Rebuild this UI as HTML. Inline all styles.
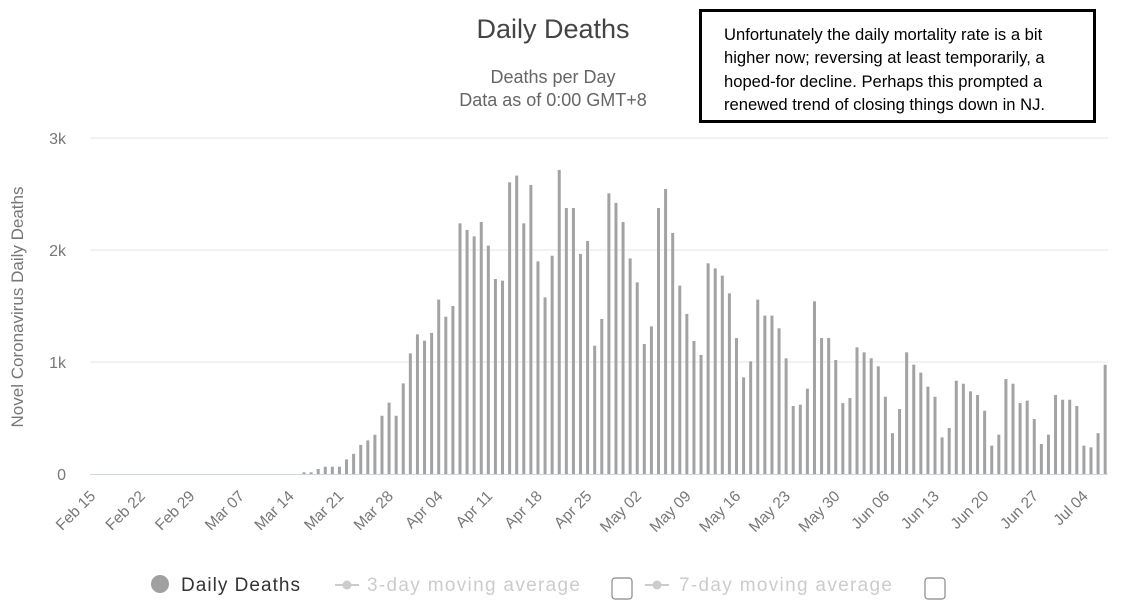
<!DOCTYPE html>
<html><head><meta charset="utf-8"><style>
body{margin:0;background:#fff;width:1121px;height:608px;overflow:hidden;font-family:"Liberation Sans",sans-serif}
svg{position:absolute;left:0;top:0}
#note{position:absolute;left:699px;top:9px;width:391px;height:108px;border:3px solid #000;box-sizing:content-box;font-size:16.6px;line-height:23.3px;color:#000;padding:0;white-space:nowrap}
#note div{padding:11px 0 0 22px}
</style></head><body>
<svg id="chart" width="1121" height="608"></svg>
<div id="note"><div>Unfortunately the daily mortality rate is a bit<br>higher now; reversing at least temporarily, a<br>hoped-for decline. Perhaps this prompted a<br>renewed trend of closing things down in NJ.</div></div>
<script>
const leadingZeros = 30;
const deaths = [15,15,45,65,65,65,130,180,260,300,350,520,637,520,809,1077,1247,1190,1259,1557,1405,1500,2238,2179,2122,2250,2039,1741,1726,2604,2664,2238,2581,1899,1577,1949,2715,
2375,2375,1965,2081,1146,1384,2506,2420,2250,1925,1711,1161,1318,2375,2545,2152,1682,1429,1188,1063,1881,1836,1771,1613,1214,863,1006,1557,1414,1414,1301,1033,607,619,762,1542,1214,1214,
1018,633,678,1131,1086,1033,961,690,365,580,1086,976,905,780,690,327,411,833,806,738,705,565,253,351,848,806,633,655,491,268,351,705,663,663,607,253,238,365,975];
const yTicks = [0,1000,2000,3000];
const yTickLabels = ["0","1k","2k","3k"];
const xTickLabels = ["Feb 15","Feb 22","Feb 29","Mar 07","Mar 14","Mar 21","Mar 28","Apr 04","Apr 11","Apr 18","Apr 25","May 02","May 09","May 16","May 23","May 30","Jun 06","Jun 13","Jun 20","Jun 27","Jul 04"];

const NS="http://www.w3.org/2000/svg";
const svg=document.getElementById('chart');
function mk(t,a,txt){const e=document.createElementNS(NS,t);for(const k in a)e.setAttribute(k,a[k]);if(txt!=null)e.textContent=txt;svg.appendChild(e);return e;}
const values=new Array(leadingZeros).fill(0).concat(deaths);
const X0=91.3,STEP=7.09,Y0=474,PXK=112/1000;
const xs=i=>X0+i*STEP, ys=v=>Y0-v*PXK;

let e;
e=mk('text',{x:553,y:38,'text-anchor':'middle','font-size':27,fill:'#444'},'Daily Deaths');

e=mk('text',{x:553,y:83,'text-anchor':'middle','font-size':18,fill:'#666'},'Deaths per Day');

e=mk('text',{x:553,y:106,'text-anchor':'middle','font-size':18,fill:'#666'},'Data as of 0:00 GMT+8');


yTicks.forEach((t,i)=>{
  if(t>0){e=mk('line',{x1:90,x2:1108,y1:ys(t),y2:ys(t),stroke:'#e6e6e6','stroke-width':1});
  }
  e=mk('text',{x:66,y:ys(t)+6,'text-anchor':'end','font-size':16,fill:'#777'},yTickLabels[i]);
  
});
e=mk('text',{x:0,y:0,transform:'translate(23,307) rotate(-90)','text-anchor':'middle','font-size':17,fill:'#777'},'Novel Coronavirus Daily Deaths');


values.forEach((v,i)=>{
  if(v<=0)return;
  e=mk('rect',{x:xs(i)-1.5,y:ys(v),width:3,height:Y0-ys(v),fill:'#a3a3a3'});
  
});
e=mk('line',{x1:90,x2:1108,y1:Y0+0.5,y2:Y0+0.5,stroke:'#ccd6eb','stroke-width':1});


xTickLabels.forEach((l,i)=>{
  const x=xs(i*7)+5;
  e=mk('text',{x:0,y:0,transform:`translate(${x},497) rotate(-45)`,'text-anchor':'end','font-size':15.5,fill:'#777'},l);
  
});

// legend
e=mk('circle',{cx:160,cy:584,r:9,fill:'#a0a0a0'});

e=mk('text',{x:181,y:591,'font-size':19,fill:'#333',textLength:119},'Daily Deaths');

[[335,367,'3-day moving average',612,213],[645,679,'7-day moving average',925,213]].forEach(([ix,tx,lab,cbx,tl])=>{
  e=mk('line',{x1:ix,x2:ix+24,y1:585,y2:585,stroke:'#ccc','stroke-width':2});
  
  e=mk('circle',{cx:ix+12,cy:585,r:4.5,fill:'#ccc'});
  
  e=mk('text',{x:tx,y:591,'font-size':19,fill:'#ccc',textLength:tl},lab);
  
  e=mk('rect',{x:cbx,y:578,width:20,height:21,rx:3,fill:'#fff',stroke:'#888','stroke-width':1.2});
  
});
</script>
</body></html>
